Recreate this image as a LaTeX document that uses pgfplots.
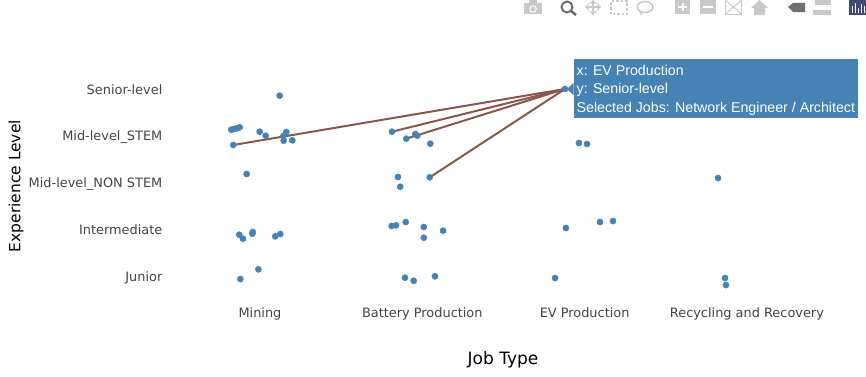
\documentclass[border=0pt]{standalone}
\usepackage{fontspec}
\setmainfont{DejaVu Sans}
\newfontfamily\tipfont{Liberation Sans}
\usepackage{pgfplots}
\pgfplotsset{compat=1.18}
\definecolor{steel}{HTML}{4682B4}
\definecolor{spike}{HTML}{8C564B}
\definecolor{tick}{HTML}{444444}
\definecolor{ico}{HTML}{C9C9C9}
\definecolor{icodark}{HTML}{6E6E6E}
\definecolor{logo}{HTML}{3B4A78}
\begin{document}
\begin{tikzpicture}[x=1pt,y=1pt]
\useasboundingbox (0,0) rectangle (866,376);
\begin{axis}[
  at={(178.85pt,78pt)},anchor=south west,
  scale only axis,width=649.2pt,height=238pt,
  xmin=-0.5,xmax=3.5,ymin=-0.47,ymax=4.62,
  clip=false,
  axis line style={draw=none},
  tick style={draw=none},
  major tick length=0pt,
  xtick={0,1,2,3},
  xticklabels={Mining,Battery Production,EV Production,Recycling and Recovery},
  ytick={0,1,2,3,4},
  yticklabels={Junior,Intermediate,Mid-level\_NON STEM,Mid-level\_STEM,Senior-level},
  xticklabel style={font=\fontsize{12.9}{15}\selectfont,text=tick,anchor=base,yshift=-19pt},
  yticklabel style={font=\fontsize{12.9}{15}\selectfont,text=tick,anchor=base east,xshift=-13pt,yshift=-5.2pt},
  xlabel={Job Type},ylabel={Experience Level},
  xlabel style={font=\fontsize{17}{18}\selectfont,anchor=center,at={(axis description cs:0.4993,-0.26)}},
  ylabel style={font=\fontsize{15.5}{18}\selectfont,anchor=center,rotate=0,at={(axis description cs:-0.2505,0.47)}},
]
\addplot[only marks,mark=*,mark size=3.1pt,color=steel,mark options={draw=steel,fill=steel}] coordinates {
(0.121,3.857)(1.879,4.0)
(-0.177,3.129)(-0.160,3.144)(-0.144,3.159)(-0.125,3.180)(-0.002,3.086)(0.035,3.001)
(0.144,2.995)(0.162,3.080)(0.146,2.894)(0.199,2.902)(-0.165,2.802)(-0.082,2.182)
(0.813,3.086)(0.901,2.937)(0.957,3.037)(0.969,3.001)(1.049,2.830)
(1.046,2.111)(0.850,2.118)(0.864,1.910)
(-0.128,0.883)(-0.105,0.798)(-0.045,0.941)(-0.047,0.905)(0.094,0.849)(0.125,0.898)
(-0.010,0.143)(-0.121,-0.064)
(0.811,1.070)(0.838,1.084)(0.898,1.155)(1.009,1.048)(1.009,0.819)(1.128,0.969)
(0.893,-0.036)(0.947,-0.101)(1.078,-0.006)
(1.965,2.845)(2.015,2.824)(1.885,1.027)(2.095,1.155)(2.175,1.176)(1.818,-0.043)
(2.822,2.096)(2.865,-0.043)(2.871,-0.193)
};
\addplot[spike,line width=2pt] coordinates {(1.879,4.0)(-0.165,2.802)};
\addplot[spike,line width=2pt] coordinates {(1.879,4.0)(0.813,3.086)};
\addplot[spike,line width=2pt] coordinates {(1.879,4.0)(0.901,2.937)};
\addplot[spike,line width=2pt] coordinates {(1.879,4.0)(1.046,2.111)};
\end{axis}
% hover label
\fill[steel] (567,287) -- (573.5,293) -- (573.5,281) -- cycle;
\fill[steel] (573.5,258) rectangle (858,317);
\node[anchor=base west,text=white,inner sep=0,font=\tipfont\fontsize{14.2}{16}\selectfont] at (576.5,301) {x: EV Production};
\node[anchor=base west,text=white,inner sep=0,font=\tipfont\fontsize{14.2}{16}\selectfont] at (576.5,282.5) {y: Senior-level};
\node[anchor=base west,text=white,inner sep=0,font=\tipfont\fontsize{14.2}{16}\selectfont] at (576.5,264) {Selected Jobs: Network Engineer / Architect};
% toolbar
\fill[ico] (524,362) rectangle (542,373);\fill[ico] (529,373) rectangle (537,376);\fill[white] (533,367) circle (3.8);\fill[ico] (533,367) circle (2.6);
\draw[icodark,line width=2pt] (567,369) circle (5.5);\draw[icodark,line width=2.5pt] (571,365) -- (576,361);
\draw[ico,line width=1.5pt,<->] (585,369) -- (601,369);\draw[ico,line width=1.5pt,<->] (593,361) -- (593,376);
\draw[ico,line width=1.5pt,dash pattern=on 2.5pt off 2pt] (611,362) rectangle (627,375);
\draw[ico,line width=1.5pt] (645,369) ellipse (8 and 5.5);\draw[ico,line width=1.5pt] (640,364) -- (642,361);
\fill[ico] (675,362) rectangle (690,376);\draw[white,line width=2pt] (678,369) -- (687,369) (682.5,365) -- (682.5,373);
\fill[ico] (700,362) rectangle (716,376);\draw[white,line width=2pt] (703,369) -- (713,369);
\draw[ico,line width=1pt] (725.5,362) rectangle (741.5,376);\draw[ico,line width=1pt] (726,362.5) -- (741,375.5) (726,375.5) -- (741,362.5);
\fill[ico] (751,368) -- (759.5,376) -- (768,368) -- (765,368) -- (765,361) -- (754,361) -- (754,368) -- cycle;
\fill[icodark] (788,369) -- (793,373) -- (805,373) -- (805,364) -- (793,364) -- cycle;
\fill[ico] (815,371) rectangle (831,376);\fill[ico] (813,361) rectangle (831,366);
\fill[logo] (849,361) rectangle (866,376);
\draw[white,line width=1pt] (852,363) -- (852,370) (855,363) -- (855,373) (858,363) -- (858,368) (861,363) -- (861,372) (864,363) -- (864,370);
\end{tikzpicture}
\end{document}
